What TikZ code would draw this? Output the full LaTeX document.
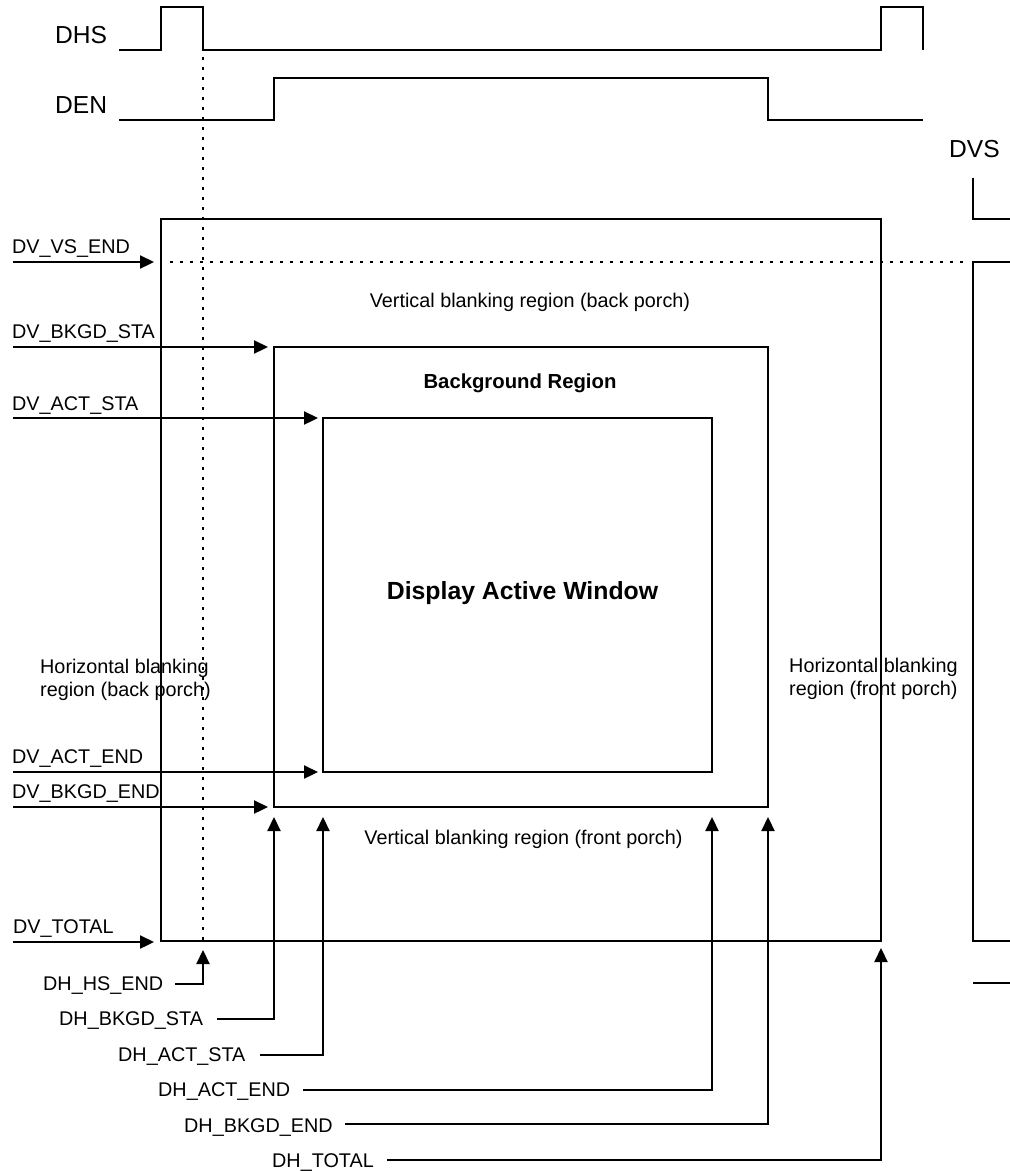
\documentclass[tikz,border=0pt]{standalone}
\usepackage{fontspec}
\setmainfont{Liberation Sans}
\usetikzlibrary{arrows.meta}
\begin{document}
\begin{tikzpicture}[x=1pt,y=-1pt,
  wire/.style={line width=2.3pt, line join=miter},
  arr/.style={wire, -{Triangle[length=14pt,width=13pt]}},
  dots/.style={line width=2.6pt, dash pattern=on 2.6pt off 7.4pt},
  lbl/.style={inner sep=0pt, anchor=base west, font=\fontsize{19.8}{23.5}\selectfont},
  sig/.style={inner sep=0pt, anchor=base west, font=\fontsize{24.6}{28}\selectfont},
  region/.style={inner sep=0pt, align=left, font=\fontsize{19.8}{23.5}\selectfont},
]
\useasboundingbox (0,0) rectangle (1010,1171);

% signal labels
\node[sig] (dhs) at (55,43) {DHS};
\node[sig] (den) at (55,113) {DEN};
\node[sig] (dvs) at (949,157) {DVS};

% waveforms
\draw[wire] (119,50) -- (161,50) -- (161,7) -- (203,7) -- (203,50) -- (881,50) -- (881,7) -- (923,7) -- (923,50);
\draw[wire] (119,120) -- (274,120) -- (274,78) -- (768,78) -- (768,120) -- (923,120);
\draw[wire] (973,178) -- (973,219) -- (1010,219);
\draw[wire] (1010,262) -- (973,262) -- (973,941) -- (1010,941);
\draw[wire] (973,983) -- (1010,983);

% boxes
\coordinate (oTL) at (161,219); \coordinate (oBR) at (881,941);
\coordinate (bTL) at (274,347); \coordinate (bBR) at (768,807);
\coordinate (aTL) at (323,418); \coordinate (aBR) at (712,772);
\draw[wire] (oTL) rectangle (oBR);
\draw[wire] (bTL) rectangle (bBR);
\draw[wire] (aTL) rectangle (aBR);

% dotted guides
\draw[dots] (170,262) -- (968,262);
\draw[dots] (203,57) -- (203,940);

% region texts
\node[region] (vbb) at (530,302) {Vertical blanking region (back porch)};
\node[region] (vbf) at (523.5,839) {Vertical blanking region (front porch)};
\node[region, anchor=west] (hbl) at (40,680) {Horizontal blanking\\region (back porch)};
\node[region, anchor=west] (hbr) at (789,679) {Horizontal blanking\\region (front porch)};
\node[inner sep=0pt, font=\bfseries\fontsize{20.3}{24}\selectfont] (bg) at (520,383) {Background Region};
\node[inner sep=0pt, font=\bfseries\fontsize{24.8}{29}\selectfont] (aw) at (522.5,593) {Display Active Window};

% DV labels and arrows
\node[lbl] (lvs) at (12,253) {DV\_VS\_END};
\node[lbl] (lbs) at (12,338) {DV\_BKGD\_STA};
\node[lbl] (las) at (12,410) {DV\_ACT\_STA};
\node[lbl] (lae) at (12,763) {DV\_ACT\_END};
\node[lbl] (lbe) at (12,798) {DV\_BKGD\_END};
\node[lbl] (ltot) at (13,933) {DV\_TOTAL};

\coordinate (vsS) at (13,262);  \coordinate (vsT) at (154,262);
\coordinate (bsS) at (13,347);  \coordinate (bsT) at (268,347);
\coordinate (asS) at (13,418);  \coordinate (asT) at (318,418);
\coordinate (aeS) at (13,772);  \coordinate (aeT) at (318,772);
\coordinate (beS) at (13,807);  \coordinate (beT) at (268,807);
\coordinate (vtS) at (13,942);  \coordinate (vtT) at (154,942);
\draw[arr] (vsS) -- (vsT);
\draw[arr] (bsS) -- (bsT);
\draw[arr] (asS) -- (asT);
\draw[arr] (aeS) -- (aeT);
\draw[arr] (beS) -- (beT);
\draw[arr] (vtS) -- (vtT);

% DH labels and arrows
\node[lbl] (hhs) at (43,990) {DH\_HS\_END};
\node[lbl] (hbs) at (59,1025) {DH\_BKGD\_STA};
\node[lbl] (has) at (118,1061) {DH\_ACT\_STA};
\node[lbl] (hae) at (158,1096) {DH\_ACT\_END};
\node[lbl] (hbe) at (184,1132) {DH\_BKGD\_END};
\node[lbl] (htot) at (272,1167) {DH\_TOTAL};

\coordinate (hsS) at (175,984);  \coordinate (hsT) at (203,950);
\coordinate (hbS) at (217,1019); \coordinate (hbT) at (274,817);
\coordinate (haS) at (260,1055); \coordinate (haT) at (323,817);
\coordinate (heS) at (303,1090); \coordinate (heT) at (712,817);
\coordinate (hkS) at (345,1124); \coordinate (hkT) at (768,817);
\coordinate (htS) at (387,1160); \coordinate (htT) at (881,948);
\draw[arr] (hsS) -| (hsT);
\draw[arr] (hbS) -| (hbT);
\draw[arr] (haS) -| (haT);
\draw[arr] (heS) -| (heT);
\draw[arr] (hkS) -| (hkT);
\draw[arr] (htS) -| (htT);
\end{tikzpicture}
\end{document}
